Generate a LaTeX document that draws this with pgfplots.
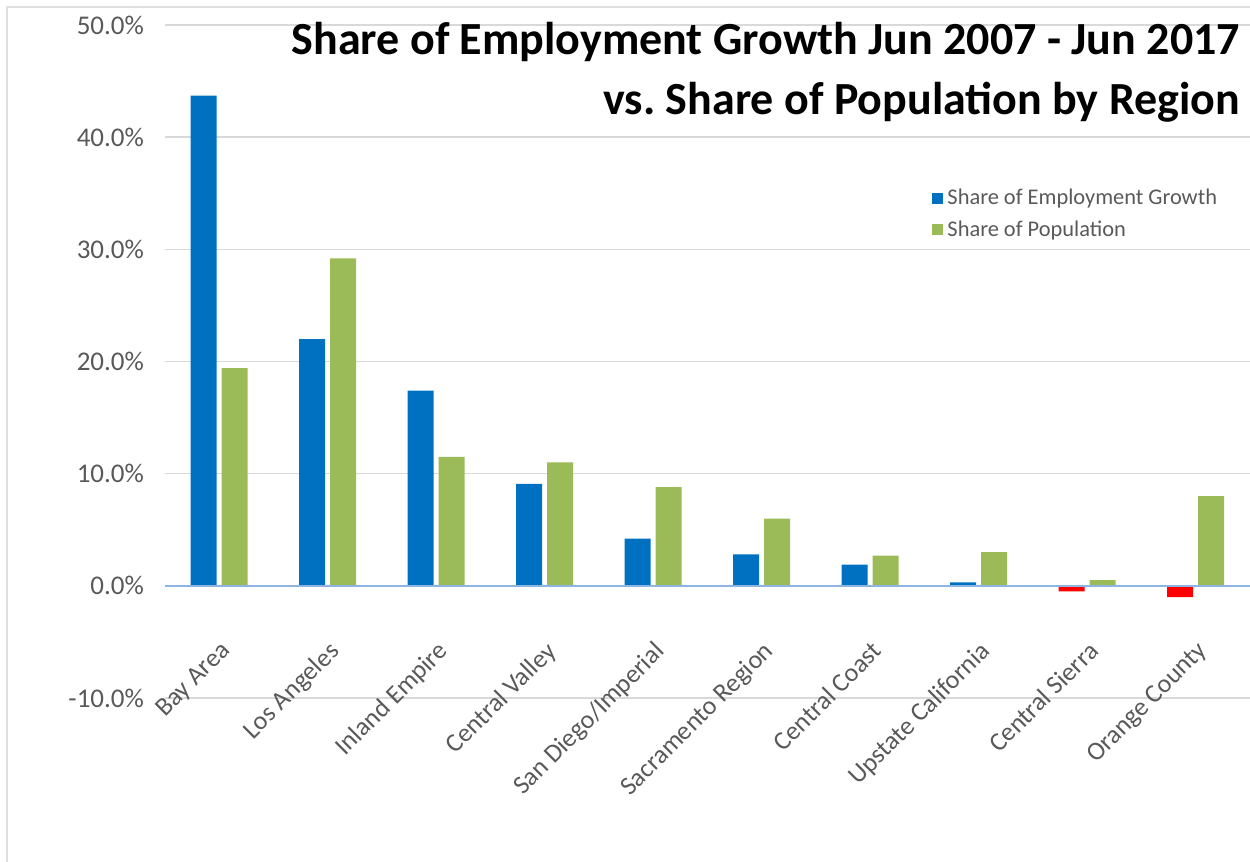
\documentclass[border=0pt]{standalone}
\usepackage{fontspec}
\setmainfont{Carlito}
\usepackage{pgfplots}
\pgfplotsset{compat=1.18}

\definecolor{empblue}{HTML}{0070C0}
\definecolor{popgreen}{HTML}{9BBB59}
\definecolor{negred}{HTML}{FF0000}
\definecolor{zeroline}{HTML}{8EB4E3}
\definecolor{labgray}{HTML}{595959}
\definecolor{gridgray}{HTML}{D9D9D9}

\begin{document}
\begin{tikzpicture}
\path[use as bounding box] (-82.5pt,-82pt) rectangle (542.5pt,349pt);
\draw[gray!25, line width=1pt] (-79pt,-82pt) -- (-79pt,345.5pt) -- (542.5pt,345.5pt);
\begin{axis}[
    at={(0,0)}, anchor=south west,
    scale only axis,
    width=542.5pt, height=336.5pt,
    clip=false,
    xmin=-0.5, xmax=9.5,
    ymin=-10, ymax=50,
    axis line style={draw=none},
    major tick length=0pt,
    ytick={-10,0,10,20,30,40,50},
    yticklabels={-10.0\%,0.0\%,10.0\%,20.0\%,30.0\%,40.0\%,50.0\%},
    yticklabel style={font=\fontsize{13.5}{15}\selectfont, text=labgray, xshift=-7pt},
    ymajorgrids,
    grid style={gridgray, line width=0.8pt},
    xtick={0,...,9},
    xticklabels={Bay Area, Los Angeles, Inland Empire, Central Valley, San Diego/Imperial,
        Sacramento Region, Central Coast, Upstate California, Central Sierra, Orange County},
    xticklabel style={rotate=45, anchor=north east, font=\fontsize{13}{15}\selectfont, text=labgray},
    xticklabel shift=-34pt,
    ybar, bar width=13pt,
    legend style={at={(0.707,0.763)}, anchor=north west, draw=none, fill=none,
        font=\fontsize{11.2}{13}\selectfont, text=labgray, row sep=2.5pt, inner sep=0pt},
    legend cell align=left,
    legend image code/.code={\fill[#1] (0pt,-2.75pt) rectangle (5.5pt,2.75pt);},
]
\addplot[fill=empblue, draw=none, bar shift=-7.75pt] coordinates {
    (0,43.7) (1,22.0) (2,17.4) (3,9.1) (4,4.2) (5,2.8) (6,1.9) (7,0.3)};
\addlegendentry{Share of Employment Growth}
\addplot[fill=popgreen, draw=none, bar shift=7.75pt] coordinates {
    (0,19.4) (1,29.2) (2,11.5) (3,11.0) (4,8.8) (5,6.0) (6,2.7) (7,3.0) (8,0.5) (9,8.0)};
\addlegendentry{Share of Population}
\addplot[fill=negred, draw=none, bar shift=-7.75pt, forget plot] coordinates {
    (8,-0.5) (9,-1.0)};
\draw[zeroline, line width=1pt] (axis cs:-0.5,0) -- (axis cs:9.5,0);
\node[anchor=north east, align=right, inner sep=0pt, font=\fontsize{23}{30}\selectfont\bfseries]
    at (rel axis cs:0.991,1.005) {Share of Employment Growth Jun 2007 - Jun 2017\\vs.\ Share of Population by Region};
\end{axis}
\end{tikzpicture}
\end{document}
